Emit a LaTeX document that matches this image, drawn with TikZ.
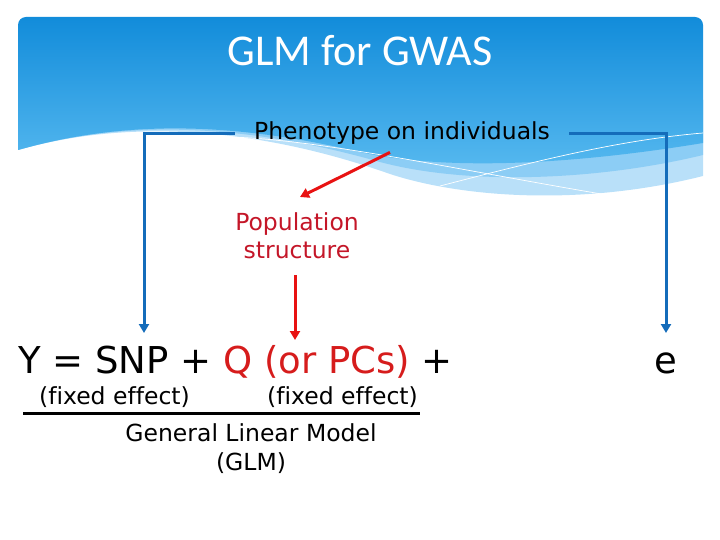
\documentclass[tikz,border=0pt]{standalone}
\usepackage{fontspec}
\setmainfont{DejaVu Sans}[Ligatures={NoCommon}]
\newfontfamily\titlefont{Carlito}
\usepackage{xcolor}
\usetikzlibrary{arrows.meta}
\definecolor{hdrtop}{RGB}{18,140,218}
\definecolor{hdrbot}{RGB}{88,186,240}
\definecolor{hdrmid}{RGB}{140,205,245}
\definecolor{hdrlight}{RGB}{185,224,249}
\definecolor{bluline}{RGB}{20,108,186}
\definecolor{poptext}{RGB}{196,22,40}
\definecolor{eqred}{RGB}{214,28,28}
\definecolor{arrred}{RGB}{232,18,18}

\begin{document}
\begin{tikzpicture}[x=1pt, y=-1pt,
    testo/.style={font=\fontsize{23.5}{28.5}\selectfont},
    grande/.style={font=\fontsize{37}{40}\selectfont},
    frecciablu/.style={draw=bluline, line width=3pt, -{Triangle[width=10pt,length=9pt]}},
    frecciarossa/.style={draw=arrred, line width=3pt, -{Triangle[width=10pt,length=9pt]}}]
    \useasboundingbox (0,0) rectangle (720,540);

    % Intestazione con onda
    \begin{scope}
        \clip[rounded corners=8pt] (18,17) rectangle (703,300);
        \fill[hdrlight] (18,100) -- (18,150) .. controls (130,118) and (260,128) .. (390,174) .. controls (460,197) and (580,207) .. (703,176) -- (703,100) -- cycle;
        \fill[hdrmid] (18,100) -- (18,150) .. controls (130,118) and (250,125) .. (380,162) .. controls (470,186) and (600,180) .. (703,155) -- (703,100) -- cycle;
        \shade[top color=hdrtop, bottom color=hdrbot] (18,17) -- (18,150) .. controls (130,118) and (240,124) .. (360,152) .. controls (460,174) and (600,160) .. (703,143) -- (703,17) -- cycle;
        \draw[white, line width=0.7pt] (230,137) .. controls (330,140) and (480,175) .. (650,202);
        \draw[white, line width=0.7pt] (440,186) .. controls (540,160) and (620,140) .. (703,133);
    \end{scope}

    % Titolo
    \node[anchor=base, text=white, font=\titlefont\fontsize{44}{44}\selectfont] (titolo) at (360,66) {GLM for GWAS};

    % Testi
    \node[testo, anchor=base, inner xsep=19pt] (fenotipo) at (402,140) {Phenotype on individuals};
    \node[testo, anchor=base, align=center, text=poptext] (popol) at (297,258.5) {Population\\structure};
    \node[grande, anchor=base west, inner sep=0pt] (equaz) at (18,373) {Y = SNP + \textcolor{eqred}{Q (or PCs)} +};
    \node[grande, anchor=base] (errore) at (666,373) {e};
    \node[testo, anchor=base] (fisso1) at (114.5,404) {(fixed effect)};
    \node[testo, anchor=base] (fisso2) at (342.5,404) {(fixed effect)};
    \node[testo, anchor=base, align=center] (glm) at (251,470) {General Linear Model\\(GLM)};

    % Linea sotto gli effetti fissi
    \draw[line width=3pt] (23,413) -- (420,413);

    % Punte delle frecce
    \coordinate (tipsnp) at (144,333);
    \coordinate (tiperr) at (666,333);
    \coordinate (tippop) at (300,197);
    \coordinate (tipq) at (295,340);

    % Frecce
    \draw[frecciablu] (fenotipo.west) -| (tipsnp);
    \draw[frecciablu] (fenotipo.east) -| (tiperr);
    \draw[frecciarossa] ([xshift=-12pt,yshift=-4pt]fenotipo.south) -- (tippop);
    \draw[frecciarossa] ([yshift=-13pt]popol.south -| tipq) -- (tipq);
\end{tikzpicture}
\end{document}
